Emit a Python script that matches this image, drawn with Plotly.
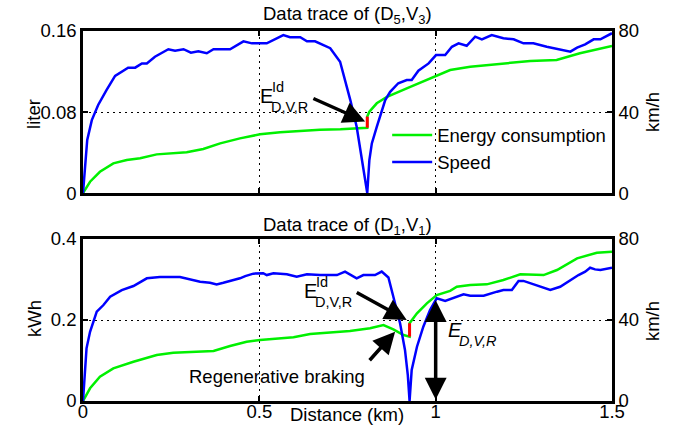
import numpy as np
import plotly.graph_objects as go

# ---- Route (D5, V3): conventional vehicle, fuel in liters ----
top_speed_dist = [0, 0.012, 0.025, 0.043, 0.067, 0.091, 0.128, 0.148, 0.167, 0.181,
                  0.204, 0.242, 0.261, 0.285, 0.306, 0.327, 0.351, 0.370, 0.417, 0.455,
                  0.479, 0.521, 0.568, 0.587, 0.616, 0.635, 0.658, 0.701, 0.729, 0.758,
                  0.776, 0.786, 0.795, 0.803, 0.806, 0.812, 0.819, 0.833, 0.857, 0.871,
                  0.894, 0.918, 0.932, 0.951, 0.980, 1.001, 1.027, 1.046, 1.065, 1.088,
                  1.112, 1.131, 1.159, 1.192, 1.221, 1.249, 1.277, 1.315, 1.353, 1.382,
                  1.401, 1.424, 1.448, 1.467, 1.500]
top_speed = [0, 26.2, 36.0, 43.5, 50.9, 57.8, 61.9, 61.9, 64.0, 64.0,
             67.3, 71.0, 70.3, 71.0, 69.3, 70.0, 69.0, 71.0, 71.0, 74.9,
             73.9, 73.9, 78.0, 76.9, 76.9, 74.9, 74.9, 71.5, 64.8, 45.9,
             32.7, 21.2, 11.4, 3.1, 0, 16.3, 24.5, 32.7, 45.9, 50.0,
             54.2, 55.8, 55.8, 60.4, 64.0, 68.1, 68.1, 72.2, 73.9, 72.7,
             77.2, 75.9, 78.0, 76.4, 75.9, 73.9, 73.9, 72.2, 71.0, 69.8,
             71.8, 73.4, 75.9, 75.9, 78.9]

top_fuel_dist = [0, 0.020, 0.048, 0.086, 0.124, 0.162, 0.209, 0.256, 0.294, 0.341,
                 0.389, 0.445, 0.502, 0.559, 0.616, 0.672, 0.730, 0.780, 0.806, 0.806,
                 0.812, 0.833, 0.862, 0.918, 0.984, 1.041, 1.098, 1.174, 1.268, 1.343,
                 1.409, 1.500]
top_fuel = [0, 0.0112, 0.0210, 0.0293, 0.0326, 0.0343, 0.0382, 0.0392, 0.0402, 0.0435,
            0.0491, 0.0540, 0.0580, 0.0600, 0.0615, 0.0625, 0.0630, 0.0638, 0.0645, 0.0755,
            0.0803, 0.0886, 0.0951, 0.1034, 0.1133, 0.1215, 0.1247, 0.1271, 0.1304, 0.1314,
            0.1380, 0.1452]

# idle energy at the stop (jump of the cumulative curve)
top_idle_dist = 0.806
top_idle_fuel = [0.0645, 0.0755]

# ---- Route (D1, V1): electric vehicle, energy in kWh ----
bot_speed_dist = [0, 0.010, 0.020, 0.039, 0.058, 0.077, 0.110, 0.143, 0.181, 0.218,
                  0.275, 0.304, 0.332, 0.360, 0.379, 0.398, 0.417, 0.445, 0.460, 0.483,
                  0.511, 0.521, 0.540, 0.578, 0.606, 0.635, 0.672, 0.720, 0.743, 0.757,
                  0.776, 0.795, 0.828, 0.847, 0.866, 0.880, 0.899, 0.913, 0.921, 0.926,
                  0.932, 0.947, 0.965, 0.984, 1.003, 1.027, 1.050, 1.079, 1.098, 1.136,
                  1.174, 1.192, 1.216, 1.235, 1.249, 1.277, 1.306, 1.325, 1.353, 1.382,
                  1.405, 1.424, 1.438, 1.452, 1.467, 1.500]
bot_speed = [0, 26.0, 34.2, 44.1, 47.4, 51.5, 54.8, 56.8, 60.6, 61.2,
             61.2, 60.2, 58.9, 58.4, 57.6, 58.4, 59.3, 60.6, 61.7, 62.9,
             63.1, 62.2, 63.1, 62.6, 61.4, 62.6, 62.2, 62.2, 63.9, 62.6,
             60.6, 62.2, 62.2, 63.9, 61.0, 51.5, 38.4, 25.2, 12.8, 0,
             15.3, 26.8, 36.7, 44.9, 50.7, 49.4, 50.7, 52.7, 52.0, 52.0,
             54.0, 54.8, 54.8, 59.3, 59.3, 57.6, 56.0, 54.8, 56.4, 59.8,
             62.2, 63.9, 65.8, 65.0, 64.7, 65.8]

bot_energy_dist = [0, 0.020, 0.048, 0.086, 0.143, 0.209, 0.256, 0.313, 0.370, 0.417,
                   0.464, 0.502, 0.550, 0.597, 0.644, 0.701, 0.757, 0.814, 0.852, 0.880,
                   0.909, 0.926, 0.926, 0.947, 0.975, 1.003, 1.041, 1.060, 1.098, 1.145,
                   1.192, 1.240, 1.306, 1.344, 1.401, 1.457, 1.500]
bot_energy = [0, 0.0314, 0.0600, 0.0807, 0.0970, 0.1136, 0.1193, 0.1217, 0.1235, 0.1358,
              0.1464, 0.1506, 0.1548, 0.1573, 0.1654, 0.1696, 0.1728, 0.1795, 0.1877, 0.1770,
              0.1630, 0.1590, 0.1920, 0.2165, 0.2410, 0.2617, 0.2720, 0.2822, 0.2864, 0.2880,
              0.2988, 0.3128, 0.3110, 0.3235, 0.3523, 0.3660, 0.3686]

bot_idle_dist = 0.926
bot_idle_energy = [0.159, 0.192]

# ---- pointer arrows (tail -> tip), in distance / km/h units ----
top_idle_arrow_x = [0.649, 0.800]
top_idle_arrow_y = [47.0, 35.3]
bot_idle_arrow_x = [0.772, 0.918]
bot_idle_arrow_y = [54.0, 40.0]
regen_arrow_x = [0.809, 0.885]
regen_arrow_y = [19.4, 34.2]
DVR_DIST = 1.0

# ---- axis ticks ----
x_ticks = [0, 0.5, 1, 1.5]
x_ticktext = ["0", "0.5", "1", "1.5"]
top_left_ticks = [0, 0.08, 0.16]
top_left_text = ["0", "0.08", "0.16"]
bot_left_ticks = [0, 0.2, 0.4]
bot_left_text = ["0", "0.2", "0.4"]
speed_ticks = [0, 40, 80]
speed_text = ["0", "40", "80"]

GREEN = "#00F000"
BLUE = "#0000FF"
RED = "#FF0000"
FONT = "Liberation Sans, Arial, sans-serif"
FS = 18.5

fig = go.Figure()

# top panel
fig.add_trace(go.Scatter(x=top_fuel_dist, y=top_fuel, mode="lines", name="Energy consumption",
                         line=dict(color=GREEN, width=2.5), xaxis="x", yaxis="y", legendrank=1))
fig.add_trace(go.Scatter(x=[top_idle_dist, top_idle_dist], y=top_idle_fuel, mode="lines",
                         line=dict(color=RED, width=3), xaxis="x", yaxis="y", showlegend=False))
fig.add_trace(go.Scatter(x=top_speed_dist, y=top_speed, mode="lines", name="Speed",
                         line=dict(color=BLUE, width=2.5), xaxis="x", yaxis="y2", legendrank=2))

# bottom panel
fig.add_trace(go.Scatter(x=bot_energy_dist, y=bot_energy, mode="lines", showlegend=False,
                         line=dict(color=GREEN, width=2.5), xaxis="x2", yaxis="y3"))
fig.add_trace(go.Scatter(x=[bot_idle_dist, bot_idle_dist], y=bot_idle_energy, mode="lines",
                         line=dict(color=RED, width=3), xaxis="x2", yaxis="y3", showlegend=False))
fig.add_trace(go.Scatter(x=bot_speed_dist, y=bot_speed, mode="lines", showlegend=False,
                         line=dict(color=BLUE, width=2.5), xaxis="x2", yaxis="y4"))

frame = dict(showline=True, linecolor="black", linewidth=2.5, ticks="inside", ticklen=5,
             tickwidth=2, tickcolor="black", zeroline=False, fixedrange=True, automargin=False,
             tickfont=dict(size=FS, color="black", family=FONT))
grid = dict(showgrid=True, gridcolor="black", gridwidth=1.2, griddash="1.5px,4.5px")

TOP_DOM = [0.562, 1.0]
BOT_DOM = [0.0, 0.4378]

fig.update_layout(
    width=685, height=428,
    margin=dict(l=83, r=73, t=31, b=27, autoexpand=False),
    paper_bgcolor="white", plot_bgcolor="white",
    font=dict(family=FONT, size=FS, color="black"),
    xaxis=dict(**frame, **grid, domain=[0, 1], range=[0, 1.5], anchor="y",
               tickvals=x_ticks, showticklabels=False, mirror="ticks"),
    yaxis=dict(**frame, **grid, domain=TOP_DOM, range=[0, 0.16], anchor="x",
               tickvals=top_left_ticks, ticktext=top_left_text, mirror=True),
    yaxis2=dict(**frame, showgrid=False, overlaying="y", side="right", range=[0, 80],
                anchor="x", tickvals=speed_ticks, ticktext=speed_text),
    xaxis2=dict(**frame, **grid, domain=[0, 1], range=[0, 1.5], anchor="y3",
                tickvals=x_ticks, ticktext=x_ticktext, mirror="ticks", ticklabelstandoff=-8),
    yaxis3=dict(**frame, **grid, domain=BOT_DOM, range=[0, 0.4], anchor="x2",
                tickvals=bot_left_ticks, ticktext=bot_left_text, mirror=True),
    yaxis4=dict(**frame, showgrid=False, overlaying="y3", side="right", range=[0, 80],
                anchor="x2", tickvals=speed_ticks, ticktext=speed_text),
    legend=dict(x=0.575, y=0.769, xanchor="left", yanchor="top", bgcolor="rgba(0,0,0,0)",
                borderwidth=0, font=dict(size=FS), itemwidth=40, tracegroupgap=0),
    showlegend=True,
)

ann = []
# panel titles
ann.append(dict(text="Data trace of (D<sub>5</sub>,V<sub>3</sub>)", xref="paper", yref="paper",
                x=0.5, y=1.0, xanchor="center", yanchor="bottom", yshift=2, showarrow=False))
ann.append(dict(text="Data trace of (D<sub>1</sub>,V<sub>1</sub>)", xref="paper", yref="paper",
                x=0.5, y=BOT_DOM[1], xanchor="center", yanchor="bottom", yshift=-1, showarrow=False))
# x axis title, on the tick label row
ann.append(dict(text="Distance (km)", xref="paper", yref="paper", x=0.499, y=0,
                xanchor="center", yanchor="middle", yshift=-13, showarrow=False))

# y axis titles
for label, ypos in (("liter", 0.776), ("kWh", 0.2216)):
    ann.append(dict(text=label, xref="paper", yref="paper", x=0, y=ypos, xshift=-49,
                    textangle=-90, xanchor="center", yanchor="middle", showarrow=False))
for ypos in (0.781, 0.216):
    ann.append(dict(text="km/h", xref="paper", yref="paper", x=1, y=ypos, xshift=40,
                    textangle=-90, xanchor="center", yanchor="middle", showarrow=False))

SUB = 14.5
BIG = 20


def idle_label(xr, yr, x, y):
    return [
        dict(text="E", xref=xr, yref=yr, x=x, y=y, xanchor="left", yanchor="middle",
             showarrow=False, font=dict(size=BIG)),
        dict(text="Id", xref=xr, yref=yr, x=x, y=y, xanchor="left", yanchor="middle",
             xshift=12, yshift=9, showarrow=False, font=dict(size=SUB)),
        dict(text="D,V,R", xref=xr, yref=yr, x=x, y=y, xanchor="left", yanchor="middle",
             xshift=11, yshift=-11, showarrow=False, font=dict(size=SUB)),
    ]


ann += idle_label("x", "y", 0.497, 0.0958)
ann += idle_label("x2", "y3", 0.621, 0.2716)

ann.append(dict(text="Regenerative braking", xref="x2", yref="y3", x=0.550, y=0.0617,
                xanchor="center", yanchor="middle", showarrow=False))
ann.append(dict(text="<i>E</i>", xref="x2", yref="y3", x=1.030, y=0.175,
                xanchor="left", yanchor="middle", showarrow=False, font=dict(size=BIG)))
ann.append(dict(text="<i>D,V,R</i>", xref="x2", yref="y3", x=1.030, y=0.175,
                xanchor="left", yanchor="middle", xshift=11, yshift=-11,
                showarrow=False, font=dict(size=SUB)))

# pointer arrows
arrow = dict(text="", showarrow=True, arrowhead=2, arrowsize=1.25, arrowwidth=3.5,
             arrowcolor="black", standoff=0, startstandoff=0)


def pointer(xs, ys, xr, yr, **extra):
    return dict(arrow, xref=xr, yref=yr, axref=xr, ayref=yr,
                x=xs[1], y=ys[1], ax=xs[0], ay=ys[0], **extra)


ann.append(pointer(top_idle_arrow_x, top_idle_arrow_y, "x", "y2"))
ann.append(pointer(bot_idle_arrow_x, bot_idle_arrow_y, "x2", "y4"))
ann.append(pointer(regen_arrow_x, regen_arrow_y, "x2", "y4"))

# double-headed arrow from zero up to the speed reached at 1 km
v_at_dvr = float(np.interp(DVR_DIST, bot_speed_dist, bot_speed))
ann.append(pointer([DVR_DIST, DVR_DIST], [0, v_at_dvr], "x2", "y4",
                   arrowside="end+start", startarrowhead=2, startarrowsize=1.25))

fig.update_layout(annotations=ann)

fig.write_html("out.html")
